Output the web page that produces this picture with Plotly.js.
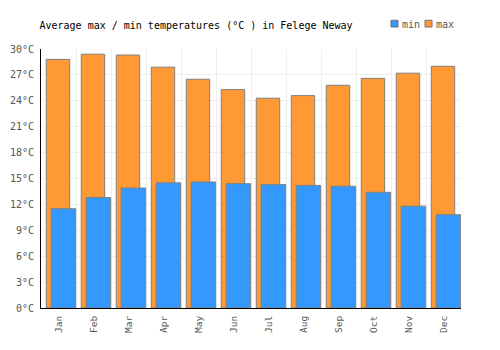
<!DOCTYPE html>
<html><head><meta charset="utf-8">
<script src="https://cdn.plot.ly/plotly-3.0.1.min.js"></script>
<style>html,body{margin:0;padding:0;background:#fff}</style>
</head><body>
<div id="chart" style="width:500px;height:350px"></div>
<script>
const months = ["Jan","Feb","Mar","Apr","May","Jun","Jul","Aug","Sep","Oct","Nov","Dec"];
const maxTemps = [28.8, 29.4, 29.3, 27.9, 26.5, 25.3, 24.3, 24.6, 25.8, 26.6, 27.2, 28.0];
const minTemps = [11.5, 12.8, 13.9, 14.5, 14.6, 14.4, 14.3, 14.2, 14.1, 13.4, 11.8, 10.8];
const yTicks = [0, 3, 6, 9, 12, 15, 18, 21, 24, 27, 30];
const seriesNames = ["min", "max"];
const seriesColors = ["#3399ff", "#ff9933"];

const mono = "DejaVu Sans Mono, monospace";
const traces = [
  {type:"bar", name:seriesNames[1], x:months, y:maxTemps, offset:-0.35, width:0.67, showlegend:false,
   marker:{color:seriesColors[1], line:{color:"#808080", width:1}}},
  {type:"bar", name:seriesNames[0], x:months, y:minTemps, offset:-0.21, width:0.7, showlegend:false,
   marker:{color:seriesColors[0], line:{color:"#808080", width:1}}}
];
// custom compact legend (small squares + labels) above plot, right side
const legX = [[0.8333, 0.85, 0.855], [0.9143, 0.931, 0.9357]];
const shapes = seriesNames.map((n,i)=>({type:"rect", xref:"paper", yref:"paper",
  x0:legX[i][0], x1:legX[i][1], y0:1.085, y1:1.111,
  fillcolor:seriesColors[i], line:{color:"#707070", width:1}}));
const annotations = seriesNames.map((n,i)=>({xref:"paper", yref:"paper", x:legX[i][2], y:1.0965,
  xanchor:"left", yanchor:"middle", showarrow:false, text:n,
  font:{family:mono, size:10, color:"#555"}}));

const layout = {
  width:500, height:350,
  margin:{l:41, r:39, t:49, b:42},
  barmode:"overlay",
  paper_bgcolor:"#fff", plot_bgcolor:"#fff",
  font:{family:mono, size:10, color:"#555"},
  title:{text:"Average max / min temperatures (°C ) in Felege Neway", x:0.079, xanchor:"left",
         y:0.926, yanchor:"middle", font:{family:mono, size:10, color:"#000"}},
  showlegend:false,
  shapes:shapes, annotations:annotations,
  xaxis:{type:"category", range:[-0.5, 11.5], tickangle:-90, tickson:"boundaries",
         showgrid:true, gridcolor:"#eeeeee", ticks:"", showline:true, linecolor:"#000", linewidth:1,
         ticklabelstandoff:3,
         tickfont:{family:mono, size:9.5, color:"#555"}, automargin:false, fixedrange:true},
  yaxis:{range:[0,30], tickvals:yTicks, ticktext:yTicks.map(v=>v+"°C"),
         showgrid:true, gridcolor:"#eeeeee", zeroline:false, showline:true, linecolor:"#000", linewidth:1,
         ticklabelstandoff:4,
         ticks:"", tickfont:{family:mono, size:10, color:"#555"}, automargin:false}
};
Plotly.newPlot("chart", traces, layout, {displayModeBar:false, staticPlot:true});
</script>
</body></html>
